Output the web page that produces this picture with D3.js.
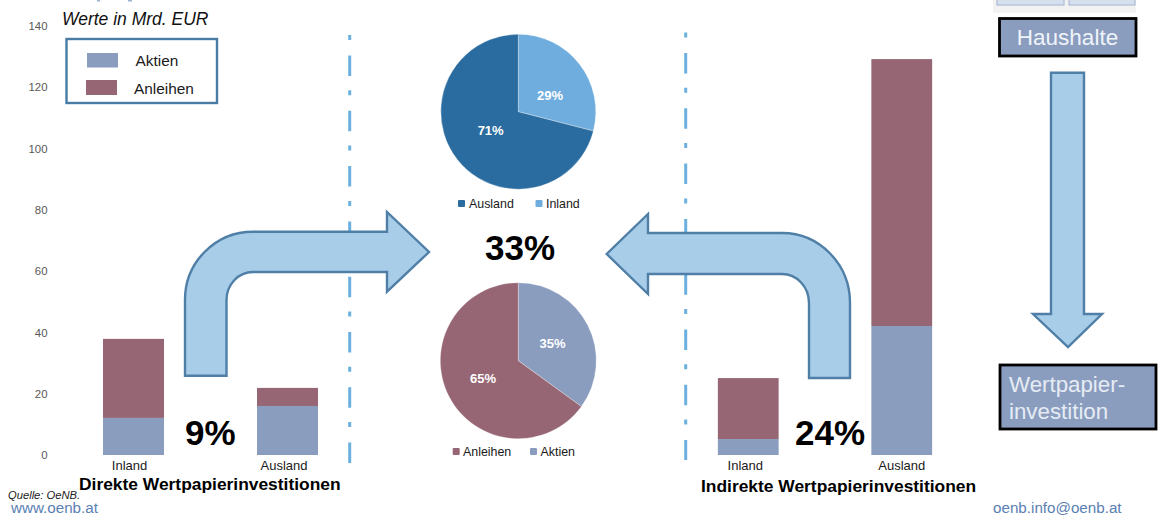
<!DOCTYPE html>
<html lang="de">
<head>
<meta charset="utf-8">
<title>Wertpapierinvestitionen der Haushalte</title>
<script src="https://cdn.jsdelivr.net/npm/d3@7/dist/d3.min.js"></script>
<style>
  html, body { margin: 0; padding: 0; background: #fff; }
  svg { display: block; font-family: "Liberation Sans", Arial, sans-serif; opacity: 0.999; }
</style>
</head>
<body>
<svg id="chart" width="1160" height="516"></svg>
<script>
// Bar data, Mrd. EUR
const barCategories = ["Inland", "Ausland"];
const direktAktien = [12.1, 16];
const direktAnleihen = [25.8, 5.9];
const indirektAktien = [5.2, 42.1];
const indirektAnleihen = [19.9, 87.1];
const yTicks = [0, 20, 40, 60, 80, 100, 120, 140];

// Pie data, percent
const regionLabels = ["Inland", "Ausland"];
const regionShares = [29, 71];
const assetLabels = ["Aktien", "Anleihen"];
const assetShares = [35, 65];

const COL = {
  aktien: "#8a9dbf", anleihen: "#966674",
  ausland: "#2a6ca0", inland: "#6fadde",
  arrowFill: "#a8cde9", arrowStroke: "#4f7fa6",
  frame: "#4a7ca3", dash: "#6cb0e0", link: "#5b80b4",
  tick: "#595959", text: "#1a1a1a"
};

const svg = d3.select("#chart");
const y = d3.scaleLinear().domain([0, 140]).range([455, 26]);

// Strip of the household icons that runs off the top edge
svg.append("rect").attr("x", 993).attr("y", 0).attr("width", 143).attr("height", 13).attr("fill", "#f2f2f2");
[[997, 67], [1069, 66]].forEach(([x, w]) => {
  svg.append("rect").attr("x", x).attr("y", -2).attr("width", w).attr("height", 7)
    .attr("fill", "#d6dfee").attr("stroke", "#aebcd6").attr("stroke-width", 1.2);
});
// Descenders of the cut-off headline
[[97, 3], [128, 4]].forEach(([x, w]) => {
  svg.append("rect").attr("x", x).attr("y", 0).attr("width", w).attr("height", 1.5).attr("fill", "#9db4d6");
});

// Dash-dot separators
[[349.7, 35, 463], [685.7, 32.5, 460]].forEach(([x, y0, y1]) => {
  svg.append("line").attr("x1", x).attr("x2", x).attr("y1", y0).attr("y2", y1)
    .attr("stroke", COL.dash).attr("stroke-width", 3)
    .attr("stroke-dasharray", "5 15.5 20.5 14.3");
});

// Value axis without line or tick marks
const yAxis = svg.append("g").attr("transform", "translate(47.5,0)")
  .call(d3.axisLeft(y).tickValues(yTicks).tickSize(0).tickPadding(0));
yAxis.select(".domain").remove();
yAxis.selectAll("text").attr("font-family", "Liberation Sans, Arial, sans-serif")
  .attr("font-size", 11.4).attr("fill", COL.tick);

// One stacked bar panel with its category axis
function barPanel(range, aktien, anleihen, labelShift) {
  const x = d3.scaleBand().domain(barCategories).range(range).paddingInner(0.604).paddingOuter(0.302);
  const rows = barCategories.map((c, i) => ({ cat: c, aktien: aktien[i], anleihen: anleihen[i] }));
  const stacked = d3.stack().keys(["aktien", "anleihen"])(rows);
  const g = svg.append("g");
  g.selectAll("g").data(stacked).join("g").attr("fill", d => COL[d.key])
    .selectAll("rect").data(d => d).join("rect")
    .attr("x", d => x(d.data.cat))
    .attr("width", x.bandwidth())
    .attr("y", d => y(d[1]))
    .attr("height", d => y(d[0]) - y(d[1]));
  const axis = svg.append("g").attr("transform", "translate(0,455)")
    .call(d3.axisBottom(x).tickSize(0).tickPadding(0));
  axis.select(".domain").remove();
  axis.selectAll("text")
    .attr("font-family", "Liberation Sans, Arial, sans-serif")
    .attr("font-size", 13).attr("fill", COL.text)
    .attr("y", 5).attr("dy", "10px")
    .attr("dx", (d, i) => labelShift[i]);
}
barPanel([56.5, 364.5], direktAktien, direktAnleihen, [-4, -3.5]);
barPanel([671.5, 978.5], indirektAktien, indirektAnleihen, [-3, 0]);

// Pie with inner percent labels and a legend underneath
function piePanel(cx, cy, r, labels, shares, colors, nudges) {
  const arcs = d3.pie().sort(null)(shares);
  const arc = d3.arc().innerRadius(0).outerRadius(r);
  const labelArc = d3.arc().innerRadius(35).outerRadius(35);
  const g = svg.append("g").attr("transform", `translate(${cx},${cy})`);
  g.selectAll("path").data(arcs).join("path")
    .attr("d", arc)
    .attr("fill", (d, i) => colors[i])
    .attr("stroke", "#fff").attr("stroke-opacity", 0.45).attr("stroke-width", 0.7);
  g.selectAll("text").data(arcs).join("text")
    .attr("x", (d, i) => labelArc.centroid(d)[0] + nudges[i][0])
    .attr("y", (d, i) => labelArc.centroid(d)[1] + nudges[i][1])
    .attr("text-anchor", "middle").attr("dominant-baseline", "central")
    .attr("font-size", 13).attr("font-weight", 700).attr("fill", "#fff")
    .text(d => `${d.data}%`);
}
piePanel(518.3, 111.7, 77.5, regionLabels, regionShares, [COL.inland, COL.ausland], [[4, 5], [0, -3]]);
piePanel(518.3, 360.7, 78, assetLabels, assetShares, [COL.aktien, COL.anleihen], [[3, -1], [-4, 2]]);

function pieLegend(items, baseline) {
  items.forEach(([label, color, sx, tx]) => {
    svg.append("rect").attr("x", sx).attr("y", baseline - 8).attr("width", 7).attr("height", 7)
      .attr("rx", 1).attr("fill", color);
    svg.append("text").attr("x", tx).attr("y", baseline).attr("font-size", 12.4).attr("fill", COL.text).text(label);
  });
}
pieLegend([["Ausland", COL.ausland, 458, 469], ["Inland", COL.inland, 535.5, 546]], 208);
pieLegend([["Anleihen", COL.anleihen, 452.7, 463], ["Aktien", COL.aktien, 530, 540.5]], 456);

// Block arrows
function arrow(d) {
  svg.append("path").attr("d", d).attr("fill", COL.arrowFill)
    .attr("stroke", COL.arrowStroke).attr("stroke-width", 2.4).attr("stroke-linejoin", "miter");
}
arrow("M185,375.7 V300 A68,68 0 0 1 253,231.7 H387 V212 L429,252 L387,291.7 V272 H253 A26.5,28 0 0 0 226.5,300 V375.7 Z");
arrow("M850,378 V303 A68,70 0 0 0 782,233 H648 V214 L606.7,254 L648,294 V274 H782 A27,29 0 0 1 809,303 V378 Z");
arrow("M1051,72.7 H1084 V314 H1102 L1068,347 L1033,314 H1051 Z");

// Bar legend
svg.append("rect").attr("x", 66.5).attr("y", 39).attr("width", 150.5).attr("height", 64)
  .attr("fill", "#fff").attr("stroke", COL.frame).attr("stroke-width", 2.4);
svg.append("rect").attr("x", 87).attr("y", 53).attr("width", 31).attr("height", 14.5).attr("fill", COL.aktien);
svg.append("rect").attr("x", 86).attr("y", 80).attr("width", 31).attr("height", 15).attr("fill", COL.anleihen);
svg.append("text").attr("x", 135.5).attr("y", 66).attr("font-size", 15.4).attr("fill", COL.text).text("Aktien");
svg.append("text").attr("x", 134).attr("y", 94).attr("font-size", 15.4).attr("fill", COL.text).text("Anleihen");

// Flow boxes
svg.append("rect").attr("x", 999.5).attr("y", 18.5).attr("width", 136.5).attr("height", 37.5)
  .attr("fill", COL.aktien).attr("stroke", "#000").attr("stroke-width", 2.8);
svg.append("text").attr("x", 1067.5).attr("y", 44.5).attr("text-anchor", "middle")
  .attr("font-size", 22.5).attr("fill", "#f0f4f9").text("Haushalte");
svg.append("rect").attr("x", 1000).attr("y", 365).attr("width", 156).attr("height", 64)
  .attr("fill", COL.aktien).attr("stroke", "#000").attr("stroke-width", 2.8);
["Wertpapier-", "investition"].forEach((line, i) => {
  svg.append("text").attr("x", 1009).attr("y", 391.5 + i * 27.5)
    .attr("font-size", 22.3).attr("fill", "#e6ecf4").text(line);
});

// Headings, shares and footer
const texts = [
  ["Werte in Mrd. EUR", 62, 25, 17.5, "italic", 400, "#111"],
  ["9%", 185, 445, 35, "normal", 700, "#000"],
  ["33%", 485, 260, 35, "normal", 700, "#000"],
  ["24%", 795, 445, 35, "normal", 700, "#000"],
  ["Direkte Wertpapierinvestitionen", 79, 489.5, 17.4, "normal", 700, "#000"],
  ["Indirekte Wertpapierinvestitionen", 701, 492, 17.4, "normal", 700, "#000"],
  ["Quelle: OeNB.", 8, 499, 11.2, "italic", 400, "#222"],
  ["www.oenb.at", 11, 513, 15.2, "normal", 400, COL.link],
  ["oenb.info@oenb.at", 993, 513, 15.2, "normal", 400, COL.link]
];
texts.forEach(([t, x, yy, size, style, weight, fill]) => {
  svg.append("text").attr("x", x).attr("y", yy).attr("font-size", size)
    .attr("font-style", style).attr("font-weight", weight).attr("fill", fill).text(t);
});
</script>
</body>
</html>
